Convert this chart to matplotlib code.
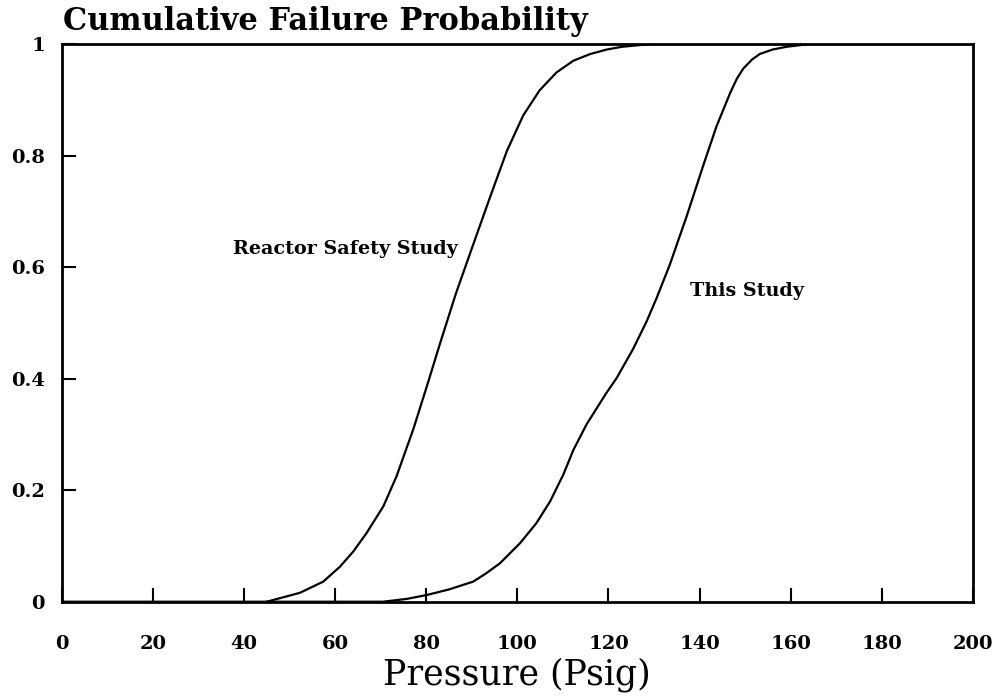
import matplotlib
matplotlib.use('Agg')
import matplotlib.pyplot as plt

# Cumulative failure probability vs. containment pressure
rss_psig = [45.0, 52.3, 57.4, 61.1, 64.0, 66.9, 70.6, 73.5, 77.2, 80.1, 83.0, 86.5,
            90.3, 94.0, 97.7, 101.3, 104.9, 108.6, 112.3, 116.0, 119.6, 123.0,
            126.9, 130.0, 200.0]
rss_prob = [0.0, 0.016, 0.036, 0.063, 0.09, 0.123, 0.171, 0.225, 0.310, 0.385, 0.462,
            0.552, 0.640, 0.725, 0.808, 0.872, 0.917, 0.949, 0.970, 0.982, 0.990,
            0.995, 0.998, 1.0, 1.0]

this_psig = [0.0, 70.5, 75.7, 80.1, 85.0, 90.3, 93.0, 96.2, 100.6, 104.2, 107.2, 110.1,
             112.3, 115.2, 119.6, 121.8, 125.4, 128.4, 130.6, 133.5, 137.2, 140.8,
             143.7, 146.7, 148.2, 149.6, 151.5, 153.2, 156.0, 159.1, 164.2, 200.0]
this_prob = [0.0, 0.0, 0.005, 0.012, 0.022, 0.036, 0.050, 0.069, 0.105, 0.141, 0.180,
             0.228, 0.272, 0.318, 0.375, 0.401, 0.453, 0.503, 0.545, 0.605, 0.692, 0.782,
             0.852, 0.912, 0.938, 0.956, 0.972, 0.982, 0.990, 0.995, 1.0, 1.0]

xticks = list(range(0, 201, 20))
yticks = [0, 0.2, 0.4, 0.6, 0.8, 1]
ytick_labels = ['0', '0.2', '0.4', '0.6', '0.8', '1']

plt.rcParams['font.family'] = ['DejaVu Serif']

fig = plt.figure(figsize=(10.01, 6.97), dpi=100)
ax = fig.add_axes([0.0616, 0.1367, 0.9104, 0.8002])

ax.plot(rss_psig, rss_prob, color='black', lw=1.6, solid_joinstyle='round')
ax.plot(this_psig, this_prob, color='black', lw=1.6, solid_joinstyle='round')

ax.set_xlim(0, 200)
ax.set_ylim(0, 1)
ax.set_xticks(xticks)
ax.set_yticks(yticks)
ax.set_yticklabels(ytick_labels)
ax.tick_params(axis='x', direction='in', length=10, width=1.5, pad=24,
               labelsize=14, top=False)
ax.tick_params(axis='y', direction='in', length=10, width=1.5, pad=12,
               labelsize=14, right=False)
for lbl in ax.get_xticklabels() + ax.get_yticklabels():
    lbl.set_fontweight('bold')
for sp in ax.spines.values():
    sp.set_linewidth(2)

ax.text(87.0, 0.632, 'Reactor Safety Study', ha='right', va='center',
        fontsize=13.8, fontweight='bold')
ax.text(137.9, 0.557, 'This Study', ha='left', va='center',
        fontsize=13.8, fontweight='bold')

fig.text(0.063, 0.9565, 'Cumulative Failure Probability', ha='left', va='baseline',
         fontsize=22, fontweight='semibold')
ax.set_xlabel('Pressure (Psig)', fontsize=25, labelpad=3)

fig.savefig('out.png', dpi=100)
